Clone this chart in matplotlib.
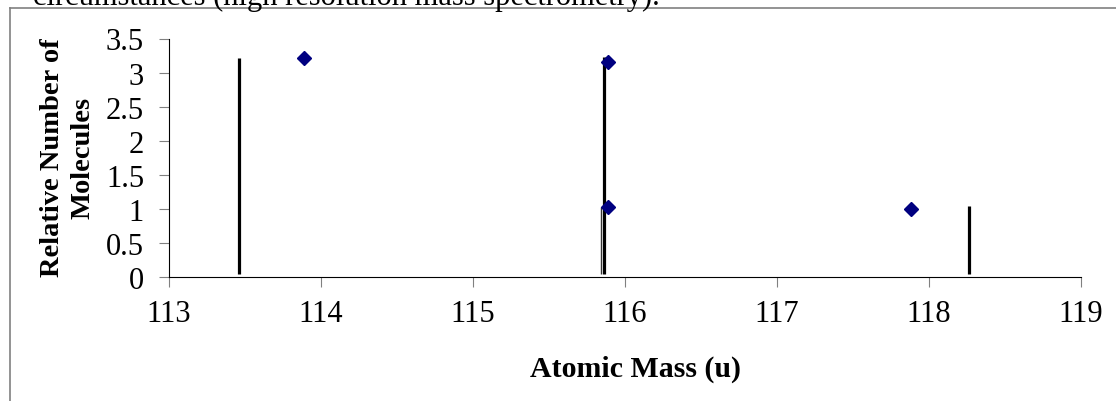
import matplotlib.pyplot as plt
from matplotlib.lines import Line2D

# vertical lines (mass peaks)
peak_x = [113.46, 115.86, 118.26]
peak_top = [3.21, 3.23, 1.04]
thin_x = [115.84]
thin_top = [1.03]
base = 0.05

# diamond points
pt_x = [113.89, 115.89, 115.89, 117.88]
pt_y = [3.21, 3.15, 1.03, 1.0]

xticks = [113, 114, 115, 116, 117, 118, 119]
yticks = [0, 0.5, 1, 1.5, 2, 2.5, 3, 3.5]
ytick_labels = ["0", "0.5", "1", "1.5", "2", "2.5", "3", "3.5"]

plt.rcParams["font.family"] = ["Liberation Serif", "DejaVu Serif"]

W, H = 1116, 402
fig = plt.figure(figsize=(W / 100, H / 100), dpi=100)
ax = fig.add_axes([169 / W, 1 - 278 / H, (1081 - 169) / W, (278 - 39.5) / H])

ax.vlines(peak_x, base, peak_top, color="black", lw=2.3)
ax.vlines(thin_x, base, thin_top, color="#333333", lw=1.0)
ax.plot(pt_x, pt_y, ls="none", marker="D", ms=7.5, color="#000080")

ax.set_xlim(113, 119)
ax.set_ylim(0, 3.5)
ax.set_xticks(xticks)
ax.set_yticks(yticks)
ax.set_yticklabels(ytick_labels)
ax.tick_params(direction="out", length=7, color="#808080", labelsize=22)
ax.tick_params(axis="x", pad=9)
ax.tick_params(axis="y", pad=11)
for s in ["top", "right"]:
    ax.spines[s].set_visible(False)

# axis titles placed by hand to match the reference layout
fig.text(636 / W, 1 - 369 / H, "Atomic Mass (u)", fontsize=21.5, fontweight="bold",
         ha="center", va="center")
fig.text(68 / W, 1 - 158 / H, "Relative Number of\nMolecules", fontsize=20.5,
         fontweight="bold", rotation=90, ha="center", va="center",
         multialignment="center", linespacing=1.3)

# frame around chart area and cut-off caption text above
fig.add_artist(Line2D([9.5 / W, 9.5 / W], [0, 1 - 8.5 / H], transform=fig.transFigure,
                      color="#808080", lw=1.2))
fig.add_artist(Line2D([9.5 / W, 1], [1 - 8.5 / H, 1 - 8.5 / H], transform=fig.transFigure,
                      color="#808080", lw=1.2))
fig.text(33 / W, 1 - 5 / H, "circumstances (high resolution mass spectrometry).",
         fontsize=22, ha="left", va="baseline")

fig.savefig("out.png", dpi=100)
